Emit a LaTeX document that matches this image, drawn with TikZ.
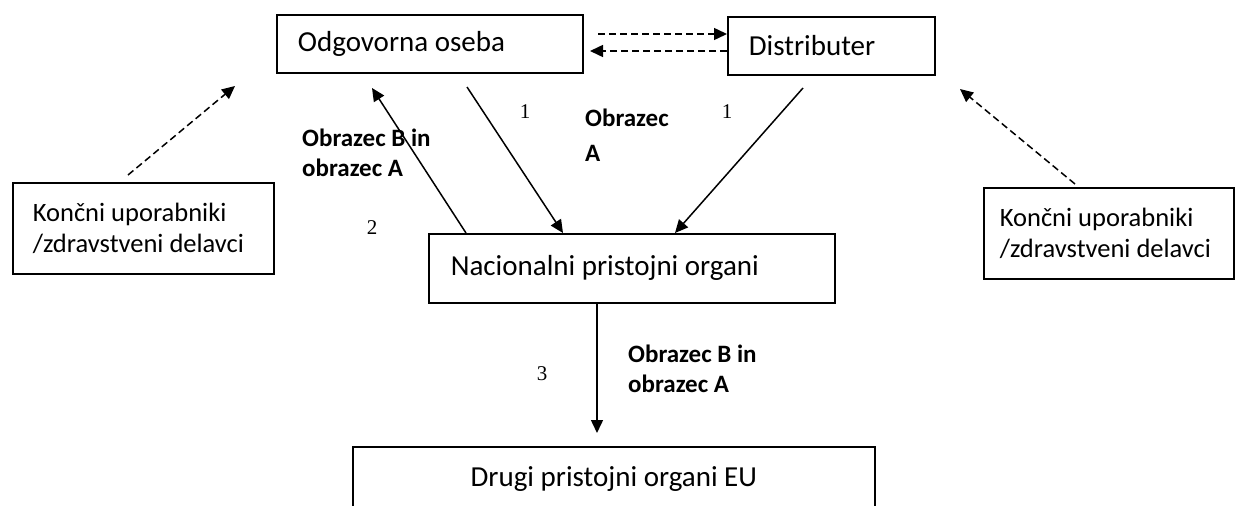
\documentclass[tikz,border=0pt]{standalone}
\usepackage{fontspec}
\setmainfont{Carlito}
\newfontfamily\numfont{Liberation Serif}
\usetikzlibrary{arrows.meta,calc}
\begin{document}
\begin{tikzpicture}[x=1pt,y=-1pt,
  execute at begin node={\spaceskip=0pt\xspaceskip=0pt\relax},
  box/.style={draw, line width=1.7pt, inner ysep=0pt, align=flush left, anchor=north west,
    font=\fontsize{29}{35}\selectfont},
  lbox/.style={box, font=\fontsize{26.5}{30.5}\selectfont},
  conn/.style={line width=1.5pt, -{Triangle[length=13pt,width=12pt]}},
  dconn/.style={conn, dash pattern=on 7pt off 4pt},
  lbl/.style={font=\fontsize{25}{30}\selectfont\bfseries, align=left, inner sep=0pt, anchor=west},
  num/.style={font=\numfont\fontsize{21}{24}\selectfont, inner sep=0pt}]
\useasboundingbox (0,0) rectangle (1235,506);
\clip (0,0) rectangle (1235,506);
% boxes
\node[box, minimum height=58pt, text width=264pt, inner xsep=21pt] (odg) at (276,14) {Odgovorna oseba};
\node[box, minimum height=58pt, text width=165pt, inner xsep=21pt] (dist) at (727,16) {Distributer};
\node[box, minimum height=69pt, text width=362pt, inner xsep=22pt] (nac) at (428,233) {Nacionalni pristojni organi};
\node[lbox, minimum height=91pt, text width=221pt, inner xsep=20pt] (kl) at (12,182) {Končni uporabniki\\/zdravstveni delavci};
\node[lbox, minimum height=91pt, text width=218pt, inner xsep=16pt] (kr) at (983,187) {Končni uporabniki\\/zdravstveni delavci};
\node[box, align=center, minimum height=64pt, minimum width=522pt] (eu) at (352,446) {Drugi pristojni organi EU};
% connector end points
\coordinate (odgS) at (467,87);
\coordinate (odgT) at (372,88);
\coordinate (distS) at (803,88);
\coordinate (euT) at (597,433);
\coordinate (klS) at (128,175);
\coordinate (klT) at (235,86);
\coordinate (krS) at (1075,184);
\coordinate (krT) at (960,89);
\coordinate (odgR1) at (598,34);
\coordinate (odgR2) at (590,51);
\coordinate (nacA) at ($(nac.north west)+(135,0)$);
\coordinate (nacB) at ($(nac.north west)+(38,0)$);
\coordinate (nacC) at ($(nac.north west)+(247,0)$);
\coordinate (nacD) at ($(nac.south west)+(169,0)$);
\coordinate (distW1) at ($(dist.north west)+(0,18)$);
\coordinate (distW2) at ($(dist.north west)+(0,35)$);
% connectors
\draw[conn] (odgS) -- (nacA);
\draw[conn] (nacB) -- (odgT);
\draw[conn] (distS) -- (nacC);
\draw[conn] (nacD) -- (euT);
\draw[dconn] (klS) -- (klT);
\draw[dconn] (krS) -- (krT);
\draw[dconn] (odgR1) -- (distW1);
\draw[dconn] (distW2) -- (odgR2);
% labels
\node[lbl] (lab2) at (302,153) {Obrazec B in\\obrazec A};
\node[lbl, font=\fontsize{25}{35}\selectfont\bfseries] (lab1) at (585,135.5) {Obrazec\\A};
\node[lbl] (lab3) at (628,369) {Obrazec B in\\obrazec A};
\node[num] (n1a) at (525,112) {1};
\node[num] (n1b) at (727,112) {1};
\node[num] (n2) at (372,228) {2};
\node[num] (n3) at (542,374) {3};
\end{tikzpicture}
\end{document}
